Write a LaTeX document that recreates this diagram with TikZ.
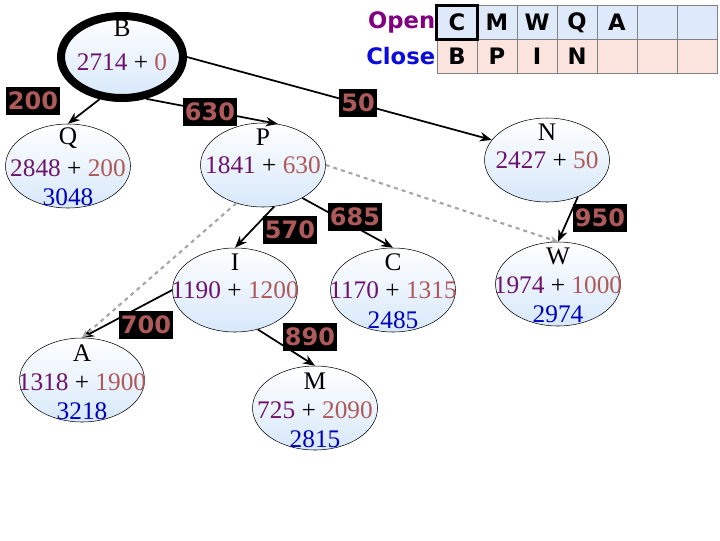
\documentclass[tikz,border=0pt]{standalone}
\usepackage{fontspec}
\newfontfamily\lab{DejaVu Sans}
\setmainfont{Liberation Serif}
\usetikzlibrary{shapes.geometric,arrows.meta}
\definecolor{pur}{RGB}{110,20,110}
\definecolor{ros}{RGB}{175,90,90}
\definecolor{blu}{RGB}{0,0,190}
\definecolor{lb}{RGB}{215,232,250}
\definecolor{ob}{RGB}{222,234,250}
\definecolor{cp}{RGB}{252,228,222}
\definecolor{opn}{RGB}{128,0,128}
\definecolor{cls}{RGB}{10,10,220}
\tikzset{
 st/.style={ellipse,draw,thin,top color=white,bottom color=lb,minimum width=125\px,minimum height=84\px,inner sep=0pt},
 txt/.style={font=\fontsize{19}{21}\selectfont,inner sep=0pt,anchor=center},
 cost/.style={fill=black,text=ros,font=\lab\bfseries\fontsize{18}{19}\selectfont,inner sep=1.5pt,minimum height=21pt},
 ed/.style={line width=1.3pt,-{Stealth[length=9pt,width=7pt]}},
 dsh/.style={line width=1.6pt,gray!70,dashed,-{Stealth[length=6pt,width=5pt]}},
 cell/.style={draw=gray,thin,text=black,minimum width=30pt,minimum height=25.5pt,inner sep=0pt,font=\lab\bfseries\fontsize{17}{18}\selectfont},
}
\newlength{\px}\setlength{\px}{0.75pt}
\begin{document}
\begin{tikzpicture}[x=0.75pt,y=-0.75pt]
\useasboundingbox (0,0) rectangle (720,540);
% states
\node[st,line width=6pt,minimum width=122\px,minimum height=82\px] (B) at (122,57) {};
\node[txt] at (122,28) {B};
\node[txt] at (122,62) {\textcolor{pur}{2714} + \textcolor{ros}{0}};
\node[st] (Q) at (68,166) {};
\node[txt] at (68,138) {Q};
\node[txt] at (68,168) {\textcolor{pur}{2848} + \textcolor{ros}{200}};
\node[txt] at (68,197) {\textcolor{blu}{3048}};
\node[st] (P) at (263,165) {};
\node[txt] at (263,137) {P};
\node[txt] at (263,165) {\textcolor{pur}{1841} + \textcolor{ros}{630}};
\node[st] (N) at (547,160) {};
\node[txt] at (547,132) {N};
\node[txt] at (547,160) {\textcolor{pur}{2427} + \textcolor{ros}{50}};
\node[st] (I) at (235,290) {};
\node[txt] at (235,262) {I};
\node[txt] at (235,290) {\textcolor{pur}{1190} + \textcolor{ros}{1200}};
\node[st] (C) at (393,290) {};
\node[txt] at (393,262) {C};
\node[txt] at (393,290) {\textcolor{pur}{1170} + \textcolor{ros}{1315}};
\node[txt] at (393,320) {\textcolor{blu}{2485}};
\node[st] (A) at (82,380) {};
\node[txt] at (82,353) {A};
\node[txt] at (82,382) {\textcolor{pur}{1318} + \textcolor{ros}{1900}};
\node[txt] at (82,411) {\textcolor{blu}{3218}};
\node[st] (M) at (315,408) {};
\node[txt] at (315,381) {M};
\node[txt] at (315,410) {\textcolor{pur}{725} + \textcolor{ros}{2090}};
\node[txt] at (315,439) {\textcolor{blu}{2815}};
\node[st] (W) at (558,284) {};
\node[txt] at (558,256) {W};
\node[txt] at (558,285) {\textcolor{pur}{1974} + \textcolor{ros}{1000}};
\node[txt] at (558,314) {\textcolor{blu}{2974}};
% edges
\draw[ed] (B.242) -- (Q.north);
\draw[ed] (B.300) -- (P.70);
\draw[ed] (B.east) -- (N.160);
\draw[ed] (P.285) -- (I.north);
\draw[ed] (P.320) -- (C.north);
\draw[ed] (I.west) -- (A.north);
\draw[ed] (I.300) -- (M.north);
\draw[ed] (N.310) -- (W.north);
\draw[dsh] (P.235) -- (A.north);
\draw[dsh] (P.east) -- (W.north);
% costs
\node[cost] at (33,101) {200};
\node[cost] at (210,112) {630};
\node[cost] at (358,103) {50};
\node[cost] at (290,230) {570};
\node[cost] at (355,217) {685};
\node[cost] at (146,325) {700};
\node[cost] at (310,337) {890};
\node[cost] at (600,218) {950};
% table
\foreach \t [count=\i] in {C,M,W,Q,A,{},{}} {
  \node[cell,fill=ob] (o\i) at (417+40*\i,22.5) {\t};
}
\foreach \t [count=\i] in {B,P,I,N,{},{},{}} {
  \node[cell,fill=cp] (c\i) at (417+40*\i,56.5) {\t};
}
\draw[line width=2.5pt] (o1.south west) rectangle (o1.north east);
\node[anchor=east,text=opn,font=\lab\bfseries\fontsize{17}{18}\selectfont,inner sep=1pt] at (o1.west) {Open};
\node[anchor=east,text=cls,font=\lab\bfseries\fontsize{17}{18}\selectfont,inner sep=1pt] at (c1.west) {Close};
\end{tikzpicture}
\end{document}
